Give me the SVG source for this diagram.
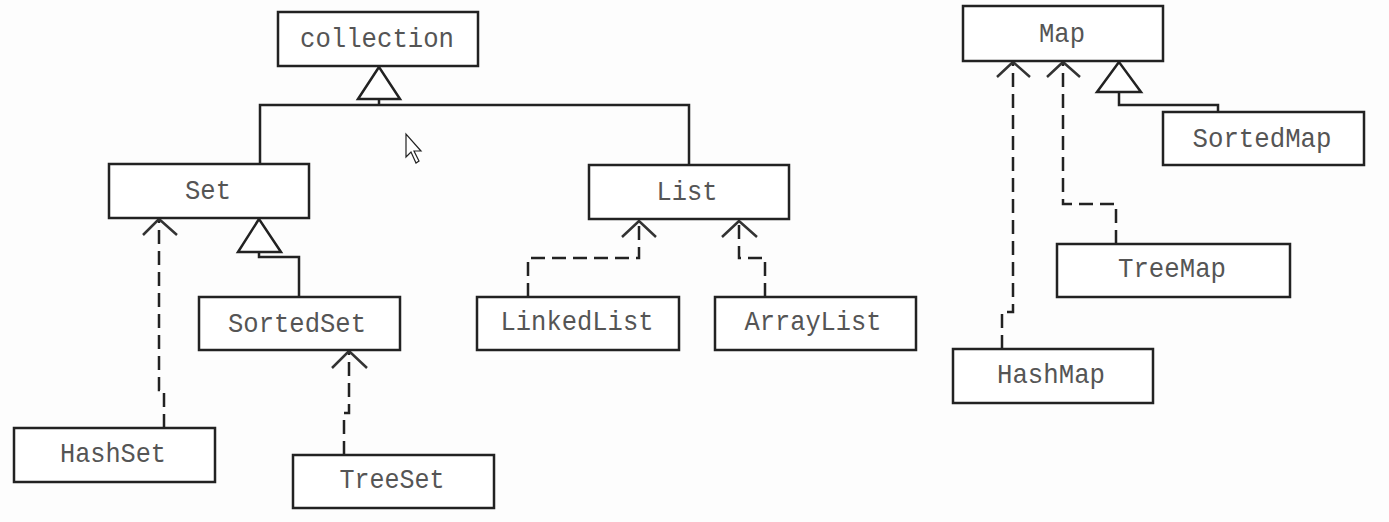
<svg xmlns="http://www.w3.org/2000/svg" width="1389" height="522" viewBox="0 0 1389 522">
<defs>
<style>
.box{fill:#fff;stroke:#222;stroke-width:2.5}
.lbl{font-family:"Liberation Mono","DejaVu Sans Mono",monospace;font-size:28px;fill:#555;text-anchor:middle}
.solid{fill:none;stroke:#222;stroke-width:2.5}
.dash{fill:none;stroke:#222;stroke-width:2.5;stroke-dasharray:14 7}
.open{fill:none;stroke:#333;stroke-width:2.5}
.tri{fill:#fff;stroke:#222;stroke-width:2.5}
</style>
</defs>
<rect width="1389" height="522" fill="#fdfdfd"/>
<g id="connectors">
<path class="solid" d="M260,164 V105 H689 V165 M379,105 V99"/>
<polygon class="tri" points="379,67 358,99 400,99"/>
<path class="solid" d="M299,297 V257 H259 V252"/>
<polygon class="tri" points="259,219 238,252 281,252"/>
<path class="dash" d="M164,428 V390 H159 V219"/>
<path class="open" d="M143,235 L159,219 L177,235"/>
<path class="dash" d="M344,455 V413 H349 V351"/>
<path class="open" d="M332,368 L349,351 L367,368"/>
<path class="dash" d="M528,297 V258 H639 V221"/>
<path class="open" d="M622,237 L639,221 L656,237"/>
<path class="dash" d="M765,297 V258 H739 V221"/>
<path class="open" d="M722,237 L739,221 L757,237"/>
<path class="dash" d="M1002,349 V312 H1013 V62"/>
<path class="open" d="M997,77 L1013,62 L1030,77"/>
<path class="dash" d="M1116,244 V204 H1063 V62"/>
<path class="open" d="M1047,77 L1063,62 L1080,77"/>
<path class="solid" d="M1218,112 V105 H1119 V92"/>
<polygon class="tri" points="1119,62 1097,92 1141,92"/>
</g>
<g id="collection"><rect class="box" x="278" y="12" width="200" height="54"/><text class="lbl" x="377" y="47" textLength="154" lengthAdjust="spacingAndGlyphs">collection</text></g>
<g id="Set"><rect class="box" x="109" y="164" width="200" height="54"/><text class="lbl" x="208" y="199" textLength="46" lengthAdjust="spacingAndGlyphs">Set</text></g>
<g id="List"><rect class="box" x="589" y="165" width="200" height="54"/><text class="lbl" x="687" y="200" textLength="61" lengthAdjust="spacingAndGlyphs">List</text></g>
<g id="SortedSet"><rect class="box" x="199" y="297" width="201" height="53"/><text class="lbl" x="297" y="332" textLength="138" lengthAdjust="spacingAndGlyphs">SortedSet</text></g>
<g id="HashSet"><rect class="box" x="14" y="428" width="201" height="54"/><text class="lbl" x="113" y="462" textLength="106" lengthAdjust="spacingAndGlyphs">HashSet</text></g>
<g id="TreeSet"><rect class="box" x="293" y="455" width="201" height="53"/><text class="lbl" x="392" y="488" textLength="105" lengthAdjust="spacingAndGlyphs">TreeSet</text></g>
<g id="LinkedList"><rect class="box" x="477" y="297" width="202" height="53"/><text class="lbl" x="577" y="330" textLength="153" lengthAdjust="spacingAndGlyphs">LinkedList</text></g>
<g id="ArrayList"><rect class="box" x="715" y="297" width="201" height="53"/><text class="lbl" x="813" y="330" textLength="137" lengthAdjust="spacingAndGlyphs">ArrayList</text></g>
<g id="Map"><rect class="box" x="963" y="6" width="200" height="55"/><text class="lbl" x="1062" y="42" textLength="46" lengthAdjust="spacingAndGlyphs">Map</text></g>
<g id="SortedMap"><rect class="box" x="1163" y="112" width="201" height="53"/><text class="lbl" x="1262" y="147" textLength="139" lengthAdjust="spacingAndGlyphs">SortedMap</text></g>
<g id="TreeMap"><rect class="box" x="1057" y="244" width="233" height="53"/><text class="lbl" x="1172" y="277" textLength="108" lengthAdjust="spacingAndGlyphs">TreeMap</text></g>
<g id="HashMap"><rect class="box" x="953" y="349" width="200" height="54"/><text class="lbl" x="1051" y="383" textLength="108" lengthAdjust="spacingAndGlyphs">HashMap</text></g>
<path id="cursor" d="M406,134 L406,157 L411,152 L416,163 L419,161 L414,151 L421,151 Z" fill="#fff" stroke="#222" stroke-width="1.2"/>
</svg>
